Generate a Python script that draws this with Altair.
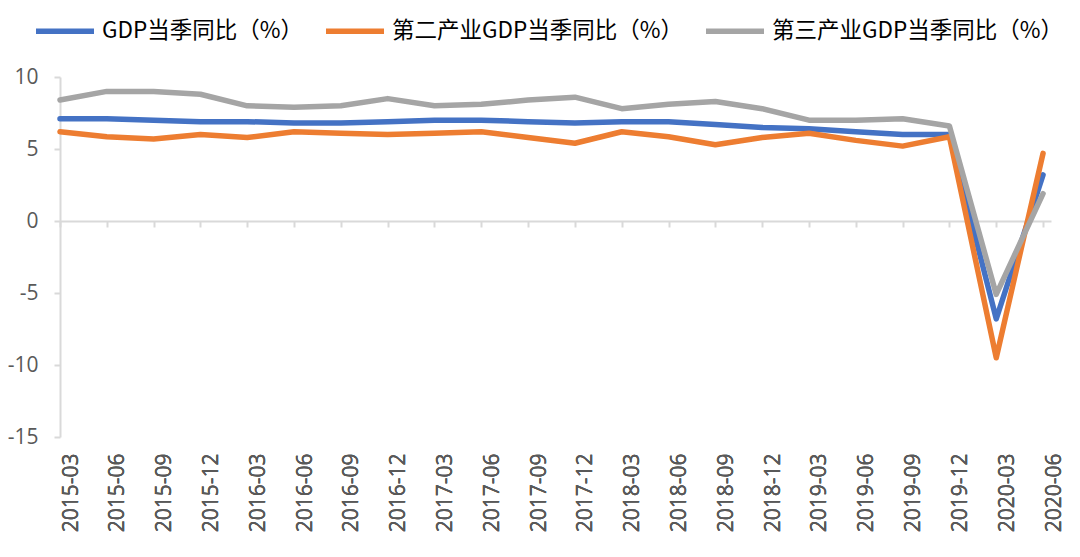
import altair as alt
import pandas as pd

quarters = ["2015-03", "2015-06", "2015-09", "2015-12", "2016-03", "2016-06",
            "2016-09", "2016-12", "2017-03", "2017-06", "2017-09", "2017-12",
            "2018-03", "2018-06", "2018-09", "2018-12", "2019-03", "2019-06",
            "2019-09", "2019-12", "2020-03", "2020-06"]
gdp = [7.1, 7.1, 7.0, 6.9, 6.9, 6.8, 6.8, 6.9, 7.0, 7.0, 6.9, 6.8,
       6.9, 6.9, 6.7, 6.5, 6.4, 6.2, 6.0, 6.0, -6.8, 3.2]
secondary = [6.2, 5.85, 5.7, 6.0, 5.8, 6.2, 6.1, 6.0, 6.1, 6.2, 5.8, 5.4,
             6.2, 5.85, 5.3, 5.8, 6.1, 5.6, 5.2, 5.85, -9.5, 4.7]
tertiary = [8.4, 9.0, 9.0, 8.8, 8.0, 7.9, 8.0, 8.5, 8.0, 8.1, 8.4, 8.6,
            7.8, 8.1, 8.3, 7.8, 7.0, 7.0, 7.1, 6.6, -5.1, 1.9]
names = ["GDP当季同比（%）", "第二产业GDP当季同比（%）", "第三产业GDP当季同比（%）"]
colors = ["#4472C4", "#ED7D31", "#A5A5A5"]
y_ticks = [-15, -10, -5, 0, 5, 10]

rows = []
for name, vals in zip(names, [gdp, secondary, tertiary]):
    for q, v in zip(quarters, vals):
        rows.append({"quarter": q, "series": name, "value": v})
df = pd.DataFrame(rows)
df_q = pd.DataFrame({"quarter": quarters})

AXIS_FONT = "Open Sans"
GRAY = "#D9D9D9"
LABEL = "#595959"

x_main = alt.X(
    "quarter:O", sort=quarters,
    scale=alt.Scale(type="point", padding=0.085, align=0),
    axis=alt.Axis(title=None, orient="bottom", labelAngle=-90, labelAlign="right",
                  labelBaseline="top", domain=False, ticks=False, grid=False,
                  labelFont=AXIS_FONT, labelFontSize=21, labelColor=LABEL,
                  labelPadding=16),
)
y_main = alt.Y(
    "value:Q",
    scale=alt.Scale(domain=[-15, 10], nice=False, zero=False),
    axis=alt.Axis(title=None, values=y_ticks, grid=False, domainColor=GRAY,
                  domainWidth=2, tickColor=GRAY, tickSize=6, tickWidth=2,
                  labelFont=AXIS_FONT, labelFontSize=21, labelColor=LABEL,
                  labelPadding=16, labelExpr="datum.value + ''"),
)
color = alt.Color(
    "series:N",
    scale=alt.Scale(domain=names, range=colors),
    legend=alt.Legend(title=None, orient="none", legendX=-27, legendY=-78,
                      direction="horizontal", columns=3, symbolType="stroke",
                      symbolSize=3364, symbolStrokeWidth=5.5,
                      labelFont="Noto Sans CJK SC", labelFontSize=22.5,
                      labelColor="#000000", labelLimit=0, columnPadding=12,
                      labelOffset=5),
)

base = alt.Chart(df).mark_line(strokeWidth=5.5, strokeJoin="round", strokeCap="round").encode(
    x=x_main, y=y_main, color=color
)
line_layers = [base.transform_filter(alt.datum.series == n) for n in names]

zero_layer = alt.Chart(df_q).mark_point(opacity=0).encode(
    x=alt.X("quarter:O", sort=quarters,
            axis=alt.Axis(title=None, orient="bottom", offset=-216, labels=False,
                          domain=True, domainColor=GRAY, domainWidth=2,
                          ticks=True, tickColor=GRAY, tickSize=6, tickWidth=2,
                          grid=False)),
    y=alt.datum(0),
)

chart = alt.layer(*line_layers, zero_layer).resolve_axis(x="independent").properties(
    width=991, height=360,
    autosize=alt.AutoSizeParams(type="none"),
    padding={"left": 52, "top": 69, "right": 15, "bottom": 110},
    background="white",
).configure_view(stroke=None)

chart.save("out.html", embed_options={"renderer": "svg", "actions": False})
